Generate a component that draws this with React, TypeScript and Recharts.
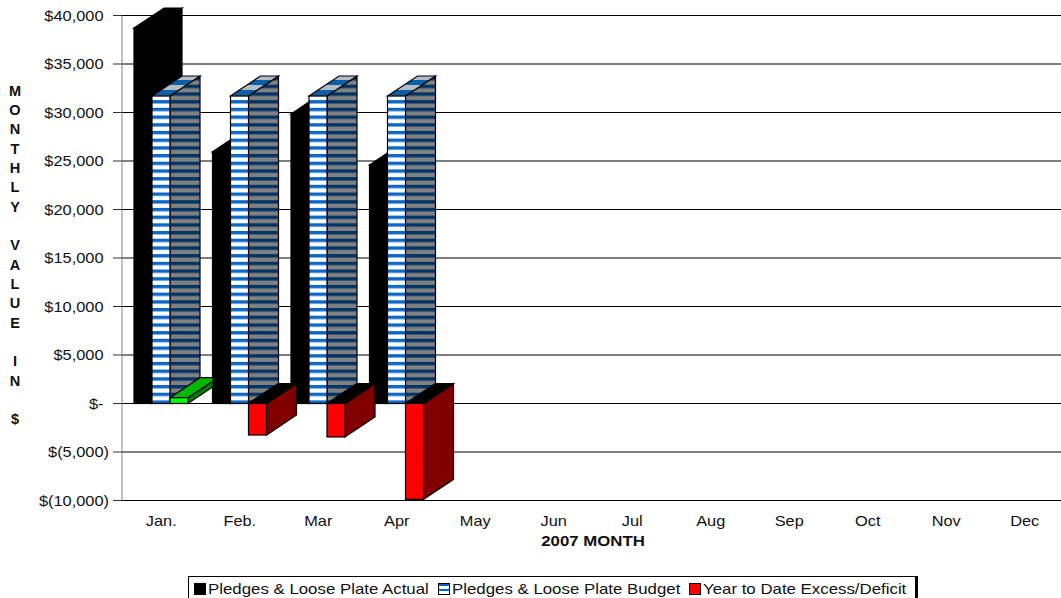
import React from 'react';
import { BarChart, Bar, XAxis, YAxis, CartesianGrid, Legend } from 'recharts';

const months = ['Jan.', 'Feb.', 'Mar', 'Apr', 'May', 'Jun', 'Jul', 'Aug', 'Sep', 'Oct', 'Nov', 'Dec'];
const actual = [38700, 25950, 29850, 24600, null, null, null, null, null, null, null, null];
const budget = [31700, 31700, 31700, 31700, null, null, null, null, null, null, null, null];
const excess = [600, -3250, -3450, -9880, null, null, null, null, null, null, null, null];
const yTicks = [40000, 35000, 30000, 25000, 20000, 15000, 10000, 5000, 0, -5000, -10000];
const yTitle = ['M', 'O', 'N', 'T', 'H', 'L', 'Y', '', 'V', 'A', 'L', 'U', 'E', '', 'I', 'N', '', '$'];

const data = months.map((month, i) => ({
  month,
  actual: actual[i],
  budget: budget[i],
  excess: excess[i],
}));

const FONT = '"Liberation Sans", Arial, sans-serif';
const DX = 30;
const DY = -20;
const STRETCH = 1.17;

const formatMoney = (v: number) => {
  if (v === 0) return '$-';
  const s = Math.abs(v).toLocaleString('en-US');
  return v < 0 ? `$(${s})` : `$${s}`;
};

// front, top and side faces of one extruded column
const Box = ({ x, y, width, height, front, top, side, stroke, clipId, clipWidth }: any) => {
  const r = x + width;
  const b = y + height;
  return (
    <g clipPath={clipId ? `url(#${clipId})` : undefined}>
      {clipId && (
        <clipPath id={clipId}>
          <rect x={x - 1} y={y - 40} width={clipWidth} height={height + 80} />
        </clipPath>
      )}
      <polygon points={`${r},${y} ${r + DX},${y + DY} ${r + DX},${b + DY} ${r},${b}`} fill={side} stroke={stroke} strokeWidth={1.2} />
      <polygon points={`${x},${y} ${x + DX},${y + DY} ${r + DX},${y + DY} ${r},${y}`} fill={top} stroke={stroke} strokeWidth={1.2} />
      <rect x={x} y={y} width={width} height={height} fill={front} stroke={stroke} strokeWidth={1.2} />
    </g>
  );
};

const ActualShape = (p: any) => {
  if (p.actual == null) return null;
  return <Box x={p.x} y={p.y} width={p.width} height={p.height} front="#000" top="#000" side="#000" stroke="#000" />;
};

const BudgetShape = (p: any) => {
  if (p.budget == null) return null;
  return (
    <Box
      x={p.x}
      y={p.y}
      width={p.width}
      height={p.height}
      front="url(#budgetFront)"
      top="url(#budgetTop)"
      side="url(#budgetSide)"
      stroke="#000"
    />
  );
};

const ExcessShape = (p: any) => {
  if (p.excess == null) return null;
  const y = Math.min(p.y, p.y + p.height);
  const height = Math.abs(p.height);
  if (p.excess < 0) {
    return <Box x={p.x} y={y} width={p.width} height={height} front="#ff0000" top="#000" side="#800000" stroke="#000" />;
  }
  // the next month's black column stands in front of a positive box
  return (
    <Box
      x={p.x}
      y={y}
      width={p.width}
      height={height}
      front="#00ff00"
      top="#00b800"
      side="#008000"
      stroke="#000"
      clipId={`excessClip${p.index}`}
      clipWidth={43.5}
    />
  );
};

// negatives hang out past the others by the width of the closing bracket
const YTick = ({ x, y, payload }: any) => (
  <text
    transform={`translate(${payload.value < 0 ? x : x - 5.5},${y + 5}) scale(${STRETCH},1)`}
    textAnchor="end"
    fontFamily={FONT}
    fontSize={14}
    fill="#111"
  >
    {formatMoney(payload.value)}
  </text>
);

const XTick = ({ x, y, payload }: any) => (
  <text transform={`translate(${x},${y + 17}) scale(${STRETCH},1)`} textAnchor="middle" fontFamily={FONT} fontSize={14} fill="#111">
    {payload.value}
  </text>
);

const YTitle = () => (
  <g>
    {yTitle.map((letter, i) => (
      <text key={i} x={15} y={95.5 + i * 19.35} textAnchor="middle" fontFamily={FONT} fontSize={14.5} fontWeight="bold" fill="#111">
        {letter}
      </text>
    ))}
  </g>
);

const XTitle = () => (
  <text transform={`translate(593,546) scale(1.2,1)`} textAnchor="middle" fontFamily={FONT} fontSize={14} fontWeight="bold" fill="#111">
    2007 MONTH
  </text>
);

const swatches: Record<string, React.CSSProperties> = {
  actual: { background: '#000' },
  budget: { background: 'repeating-linear-gradient(#0066cc 0 2px, #fff 2px 5px)' },
  excess: { background: '#ff0000' },
};
const legendLeft = [5, 249, 500];
const legendScale = [1.122, 1.122, 1.122];

const LegendBox = ({ payload }: any) => (
  <div
    style={{
      position: 'absolute',
      left: 188,
      top: 576,
      width: 730,
      height: 30,
      boxSizing: 'border-box',
      background: '#fff',
      border: '1px solid #000',
      borderRightWidth: 3,
      fontFamily: FONT,
      fontSize: 15,
      color: '#111',
    }}
  >
    {(payload || []).map((entry: any, i: number) => (
      <React.Fragment key={entry.dataKey}>
        <span
          style={{
            position: 'absolute',
            left: legendLeft[i],
            top: 6,
            width: 10,
            height: 10,
            border: '1px solid #000',
            ...swatches[entry.dataKey],
          }}
        />
        <span
          style={{
            position: 'absolute',
            left: legendLeft[i] + 14,
            top: 3,
            whiteSpace: 'nowrap',
            transform: `scaleX(${legendScale[i]})`,
            transformOrigin: 'left',
          }}
        >
          {entry.value}
        </span>
      </React.Fragment>
    ))}
  </div>
);

const App = () => {
  return (
    <div style={{ position: 'absolute', left: 0, top: 0, width: 1061, height: 598, overflow: 'hidden', background: '#fff' }}>
      <BarChart
        width={1064}
        height={598}
        data={data}
        barSize={18}
        barGap={0}
        margin={{ top: 15.5, right: 0, left: 0, bottom: 57.5 }}
      >
        <defs>
          <pattern id="budgetFront" width="8" height="7.7" patternUnits="userSpaceOnUse">
            <rect width="8" height="7.7" fill="#fff" />
            <rect width="8" height="3.4" fill="#0a68c8" />
          </pattern>
          <pattern id="budgetSide" width="8" height="7.7" patternUnits="userSpaceOnUse">
            <rect width="8" height="7.7" fill="#808080" />
            <rect width="8" height="3.4" fill="#003366" />
          </pattern>
          <pattern id="budgetTop" width="8" height="10" patternUnits="userSpaceOnUse">
            <rect width="8" height="10" fill="#b4bcc4" />
            <rect width="8" height="5" fill="#0a60a8" />
          </pattern>
        </defs>
        <CartesianGrid vertical={false} stroke="#000" strokeWidth={1} />
        <XAxis
          dataKey="month"
          interval={0}
          height={40}
          tickLine={false}
          axisLine={{ stroke: '#000' }}
          tick={XTick}
          label={<XTitle />}
        />
        <YAxis
          width={122}
          domain={[-10000, 40000]}
          ticks={yTicks}
          interval={0}
          tickSize={9}
          tickMargin={4}
          axisLine={{ stroke: '#808080' }}
          tickLine={{ stroke: '#333' }}
          tick={YTick}
          label={<YTitle />}
        />
        <Legend layout="vertical" align="center" verticalAlign="middle" wrapperStyle={{ left: 0, top: 0, width: 0, height: 0 }} content={<LegendBox />} />
        <Bar dataKey="actual" name="Pledges & Loose Plate Actual" fill="#000" shape={ActualShape} isAnimationActive={false} />
        <Bar dataKey="budget" name="Pledges & Loose Plate Budget" fill="#0066cc" shape={BudgetShape} isAnimationActive={false} />
        <Bar dataKey="excess" name="Year to Date Excess/Deficit" fill="#ff0000" shape={ExcessShape} isAnimationActive={false} />
      </BarChart>
    </div>
  );
};

export default App;
